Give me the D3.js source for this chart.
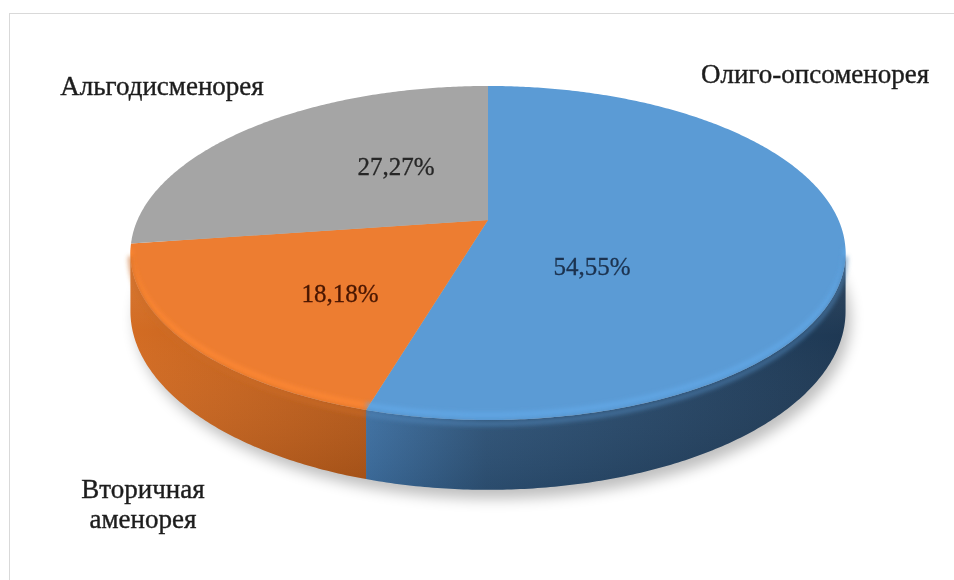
<!DOCTYPE html>
<html>
<head>
<meta charset="utf-8">
<script src="https://cdn.jsdelivr.net/npm/d3@7"></script>
<style>
  html, body { margin: 0; padding: 0; background: #fff; }
  svg { display: block; }
</style>
</head>
<body>
<svg id="chart" width="954" height="580"></svg>
<script>
// Menstrual disorder structure, share of cases (%)
const categories = ["Олиго-опсоменорея", "Вторичная аменорея", "Альгодисменорея"];
const shares = [54.55, 18.18, 27.27];
const shareLabels = ["54,55%", "18,18%", "27,27%"];

// ---- layout ----
const W = 954, H = 580;
const cx = 488, cy = 220;        // projected pie centre
const rxScale = 350.5;           // horizontal radius factor
const ryScale = 160.5;           // vertical radius factor
const persp = 0.1976;            // perspective strength (front larger than back)
const thick = 56;                // extrusion depth of the disk
const topColors = ["#5b9bd5", "#ed7d31", "#a5a5a5"];
const sideStops = [
  [["0", "#3f72a5"], ["0.25", "#2f5479"], ["1", "#1e3853"]],
  [["0", "#d36c23"], ["1", "#b65a1a"]],
  [["0", "#8a8a8a"], ["1", "#6e6e6e"]]
];
const labelFill = ["#1c3350", "#4a1604", "#262626"];
const labelFont = "'Liberation Serif', 'Times New Roman', serif";

// share label anchors and category label anchors (x, baseline y)
const shareLabelPos = [[592, 275], [340, 302], [396, 175]];
const categoryLabelPos = [[[815, 83]], [[143, 498], [143, 528]], [[162, 95]]];
const categoryLines = [["Олиго-опсоменорея"], ["Вторичная", "аменорея"], ["Альгодисменорея"]];

const svg = d3.select("#chart");
const defs = svg.append("defs");

// perspective projection of a point on the disk: angle clockwise from 12 o'clock
function proj(theta, r, z) {
  const u = r * Math.sin(theta), v = -r * Math.cos(theta);
  const w = 1 - persp * v;
  return [cx + rxScale * u / w, cy + (ryScale * v + z) / w];
}
function arcPoints(a0, a1, z) {
  const n = Math.max(2, Math.ceil(Math.abs(a1 - a0) / 0.01));
  return d3.range(n + 1).map(i => proj(a0 + (a1 - a0) * i / n, 1, z));
}
const line = d3.line();

const arcs = d3.pie().sort(null).value(d => d)(shares);

// filters
const blurSm = defs.append("filter").attr("id", "blurSm")
  .attr("x", "-10%").attr("y", "-10%").attr("width", "120%").attr("height", "120%");
blurSm.append("feGaussianBlur").attr("stdDeviation", 2);
const blurShadow = defs.append("filter").attr("id", "blurShadow")
  .attr("x", "-20%").attr("y", "-20%").attr("width", "140%").attr("height", "140%");
blurShadow.append("feGaussianBlur").attr("stdDeviation", 7);
const blurText = defs.append("filter").attr("id", "blurText");
blurText.append("feGaussianBlur").attr("stdDeviation", 0.35);

// side gradients
sideStops.forEach((stops, i) => {
  const g = defs.append("linearGradient").attr("id", "side" + i)
    .attr("gradientUnits", "userSpaceOnUse")
    .attr("x1", i === 0 ? 366 : 130).attr("x2", i === 0 ? 846 : 370)
    .attr("y1", 0).attr("y2", 0);
  stops.forEach(s => g.append("stop").attr("offset", s[0]).attr("stop-color", s[1]));
});
// vertical shading laid over the side band
const vShade = defs.append("linearGradient").attr("id", "vShade")
  .attr("x1", 0).attr("x2", 0).attr("y1", 0).attr("y2", 1);
vShade.append("stop").attr("offset", "0").attr("stop-color", "#fff").attr("stop-opacity", 0.10);
vShade.append("stop").attr("offset", "0.35").attr("stop-color", "#fff").attr("stop-opacity", 0);
vShade.append("stop").attr("offset", "1").attr("stop-color", "#000").attr("stop-opacity", 0.10);

// chart frame (right and bottom edges fall outside the view)
svg.append("rect")
  .attr("x", 9.5).attr("y", 13.5).attr("width", W + 20).attr("height", H + 20)
  .attr("fill", "none").attr("stroke", "#d9d9d9").attr("stroke-width", 1);

// soft drop shadow under the disk
const TAU = 2 * Math.PI;
svg.append("path")
  .attr("d", line(arcPoints(0, TAU, thick + 4)) + "Z")
  .attr("transform", "translate(5,4)")
  .attr("fill", "#000").attr("opacity", 0.25)
  .attr("filter", "url(#blurShadow)");

// visible side range (silhouette angles)
const visA0 = Math.acos(-persp);           // right silhouette
const visA1 = TAU - Math.acos(-persp);     // left silhouette

const sideG = svg.append("g");
arcs.forEach((a, i) => {
  const a0 = Math.max(a.startAngle, visA0), a1 = Math.min(a.endAngle, visA1);
  if (a1 <= a0) return;
  const pts = arcPoints(a0, a1, 0).concat(arcPoints(a1, a0, thick));
  sideG.append("path").attr("d", line(pts) + "Z").attr("fill", `url(#side${i})`);
  sideG.append("path").attr("d", line(pts) + "Z").attr("fill", "url(#vShade)");
});

// top faces
const topG = svg.append("g");
arcs.forEach((a, i) => {
  const pts = [[cx, cy]].concat(arcPoints(a.startAngle, a.endAngle, 0));
  topG.append("path").attr("d", line(pts) + "Z").attr("fill", topColors[i]);
});

// rounded rim highlight along the front edge of the top face
const clip = defs.append("clipPath").attr("id", "topClip");
clip.append("path").attr("d", line(arcPoints(0, TAU, 0)) + "Z");
const rimG = svg.append("g").attr("clip-path", "url(#topClip)");
arcs.forEach((a, i) => {
  const a0 = Math.max(a.startAngle, visA0), a1 = Math.min(a.endAngle, visA1);
  if (a1 <= a0) return;
  rimG.append("path")
    .attr("d", line(arcPoints(a0, a1, -4)))
    .attr("fill", "none")
    .attr("stroke", d3.color(topColors[i]).brighter(0.25))
    .attr("stroke-opacity", 0.8)
    .attr("stroke-width", 5)
    .attr("filter", "url(#blurSm)");
});
// soft transition between top face and side
arcs.forEach((a, i) => {
  const a0 = Math.max(a.startAngle, visA0), a1 = Math.min(a.endAngle, visA1);
  if (a1 <= a0) return;
  svg.append("path")
    .attr("d", line(arcPoints(a0, a1, 3)))
    .attr("fill", "none")
    .attr("stroke", d3.color(topColors[i]).darker(0.4))
    .attr("stroke-opacity", 0.6)
    .attr("stroke-width", 5)
    .attr("filter", "url(#blurSm)");
});

// share labels
svg.append("g").selectAll("text").data(arcs).join("text")
  .attr("x", (d, i) => shareLabelPos[i][0])
  .attr("y", (d, i) => shareLabelPos[i][1])
  .attr("text-anchor", "middle")
  .attr("font-family", labelFont)
  .attr("font-size", 25)
  .attr("fill", (d, i) => labelFill[i])
  .attr("stroke", (d, i) => labelFill[i])
  .attr("stroke-width", 0.3)
  .attr("filter", "url(#blurText)")
  .text((d, i) => shareLabels[i]);

// category labels
const catG = svg.append("g");
categories.forEach((c, i) => {
  categoryLines[i].forEach((ln, j) => {
    catG.append("text")
      .attr("x", categoryLabelPos[i][j][0])
      .attr("y", categoryLabelPos[i][j][1])
      .attr("text-anchor", "middle")
      .attr("font-family", labelFont)
      .attr("font-size", 27)
      .attr("fill", "#1f1f1f")
      .attr("stroke", "#1f1f1f")
      .attr("stroke-width", 0.4)
      .attr("filter", "url(#blurText)")
      .text(ln);
  });
});
</script>
</body>
</html>
